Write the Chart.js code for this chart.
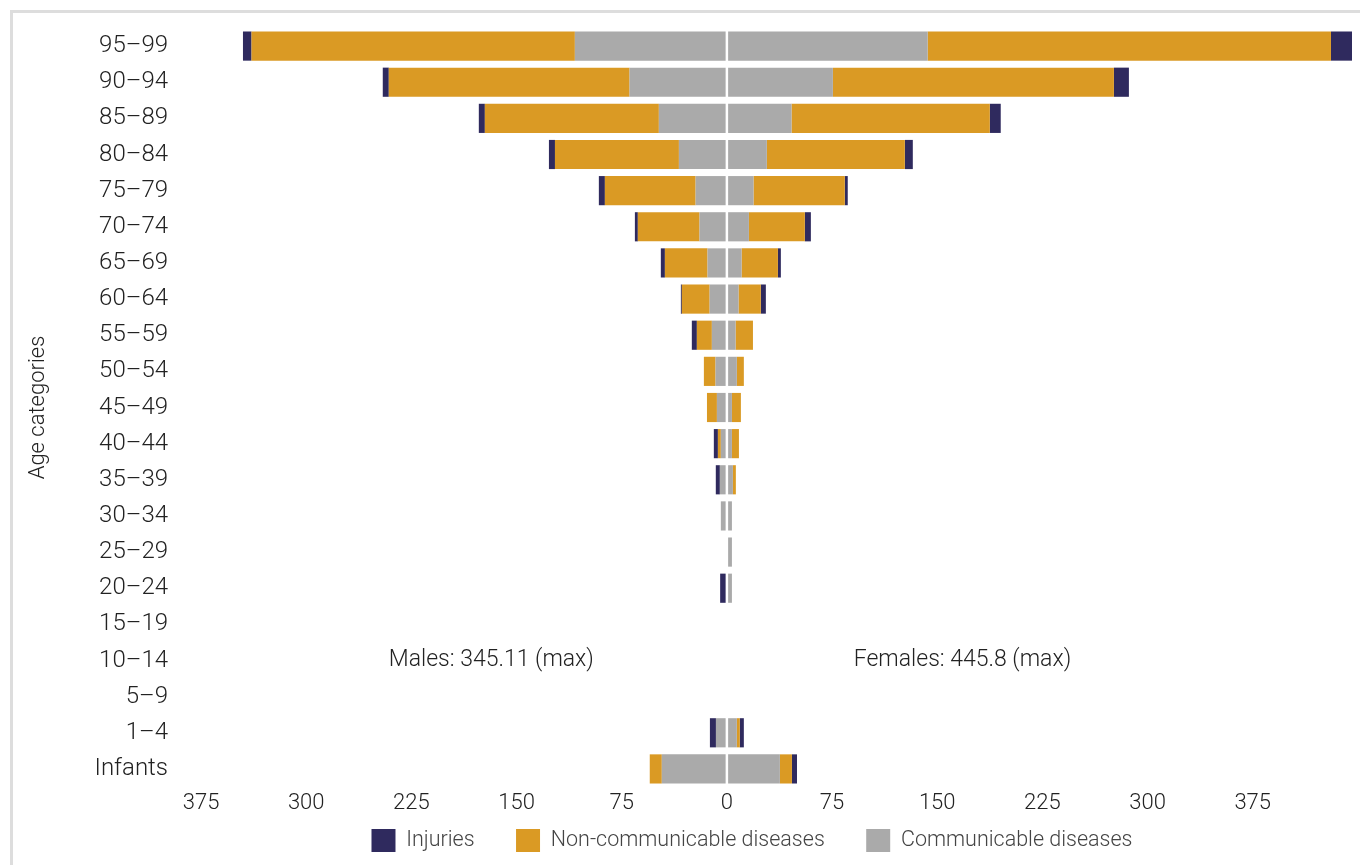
<!DOCTYPE html>
<html>
<head>
<meta charset="utf-8">
<script src="https://cdn.jsdelivr.net/npm/chart.js@4/dist/chart.umd.min.js"></script>
<style>
  body { margin: 0; background: #fff; }
  #wrap { position: relative; width: 1360px; height: 865px; }
  #frame { position: absolute; left: 10px; top: 10px; right: 0; bottom: 0;
           border-top: 3px solid #ddd; border-left: 3px solid #ddd; }
  #myChart { position: absolute; left: 0; top: 0; }
</style>
</head>
<body>
<div id="wrap">
  <div id="frame"></div>
  <canvas id="myChart" width="1360" height="865"></canvas>
</div>
<script>
const ageCategories = ['95–99', '90–94', '85–89', '80–84', '75–79', '70–74', '65–69', '60–64',
  '55–59', '50–54', '45–49', '40–44', '35–39', '30–34', '25–29', '20–24', '15–19', '10–14',
  '5–9', '1–4', 'Infants'];

// males (drawn to the left)
const maleCommunicable    = [108.4, 69.4, 48.5, 34.2, 22.3, 19.5, 13.8, 12.3, 10.7, 8.1, 7.1, 4.3, 5.0, 4.3, 0, 0.5, 0, 0, 0, 7.8, 46.4];
const maleNonCommunicable = [230.6, 171.7, 124.1, 88.4, 64.7, 44.0, 30.4, 19.8, 10.7, 8.3, 7.1, 2.1, 0, 0, 0, 0, 0, 0, 0, 0, 8.6];
const maleInjuries        = [6.1, 4.3, 4.3, 4.3, 4.3, 2.1, 2.9, 0.7, 3.6, 0, 0, 2.9, 2.9, 0, 0, 4.3, 0, 0, 0, 4.3, 0];

// females (drawn to the right)
const femaleCommunicable    = [143.2, 75.6, 46.1, 28.5, 19.0, 15.7, 10.5, 8.3, 6.2, 7.1, 3.6, 3.6, 4.3, 3.6, 3.6, 3.6, 0, 0, 0, 7.1, 37.8];
const femaleNonCommunicable = [287.6, 200.4, 141.4, 98.4, 65.1, 39.9, 25.9, 15.9, 12.4, 5.0, 6.4, 5.0, 2.1, 0, 0, 0, 0, 0, 0, 2.1, 8.6];
const femaleInjuries        = [15.0, 10.7, 7.8, 5.7, 2.1, 4.3, 2.1, 3.6, 0, 0, 0, 0, 0, 0, 0, 0, 0, 0, 0, 2.9, 3.6];

const xTicks = [-375, -300, -225, -150, -75, 0, 75, 150, 225, 300, 375];
const maleMax = 345.11;
const femaleMax = 445.8;

const NAVY = '#2f2a5e';
const ORANGE = '#da9a24';
const GREY = '#aaaaaa';
const FONT = 'Roboto';

const neg = arr => arr.map(v => -v);

const data = {
  labels: ageCategories,
  datasets: [
    { label: 'Communicable diseases', data: neg(maleCommunicable), backgroundColor: GREY, male: true },
    { label: 'Communicable diseases', data: femaleCommunicable, backgroundColor: GREY },
    { label: 'Non-communicable diseases', data: neg(maleNonCommunicable), backgroundColor: ORANGE, male: true },
    { label: 'Non-communicable diseases', data: femaleNonCommunicable, backgroundColor: ORANGE },
    { label: 'Injuries', data: neg(maleInjuries), backgroundColor: NAVY, male: true },
    { label: 'Injuries', data: femaleInjuries, backgroundColor: NAVY }
  ]
};

// white line down the middle + max labels
const centerLine = {
  id: 'centerLine',
  afterDatasetsDraw(chart) {
    const {ctx, chartArea: {top, bottom}, scales: {x, y}} = chart;
    const x0 = x.getPixelForValue(0);
    ctx.save();
    ctx.strokeStyle = '#fff';
    ctx.lineWidth = 2.5;
    ctx.beginPath();
    ctx.moveTo(x0, top);
    ctx.lineTo(x0, bottom);
    ctx.stroke();

    const yRow = y.getPixelForValue(ageCategories.indexOf('10–14'));
    ctx.fillStyle = '#222';
    ctx.font = '300 23px ' + FONT;
    ctx.textAlign = 'center';
    ctx.textBaseline = 'middle';
    ctx.fillText('Males: ' + maleMax + ' (max)', x.getPixelForValue(-168), yRow);
    ctx.fillText('Females: ' + femaleMax + ' (max)', x.getPixelForValue(168), yRow);
    ctx.restore();
  }
};

// legend sits right of centre in the original
const shiftLegend = {
  id: 'shiftLegend',
  afterLayout(chart) {
    chart.legend.left += 71;
    chart.legend.right += 71;
  }
};

const config = {
  type: 'bar',
  data,
  options: {
    indexAxis: 'y',
    responsive: false,
    animation: false,
    devicePixelRatio: 1,
    datasets: {
      bar: { categoryPercentage: 1, barPercentage: 0.807, borderWidth: 0 }
    },
    layout: { padding: { top: 28, right: 8, bottom: 3, left: 10 } },
    scales: {
      x: {
        stacked: true,
        min: -390,
        max: femaleMax,
        grid: { display: false, drawTicks: false },
        border: { display: false },
        afterBuildTicks: (scale) => {
          scale.ticks = xTicks.map(v => ({ value: v }));
        },
        afterFit: (scale) => { scale.height = 32; },
        ticks: {
          color: '#222',
          font: { family: FONT, size: 22, weight: 300 },
          padding: 3,
          callback: (v) => Math.abs(v)
        }
      },
      y: {
        stacked: true,
        grid: { display: false, drawTicks: false },
        border: { display: false },
        afterFit: (scale) => { scale.width = 170; },
        ticks: {
          color: '#222',
          font: { family: FONT, size: 24, weight: 300 },
          padding: 12
        },
        title: {
          display: true,
          text: 'Age categories',
          color: '#222',
          font: { family: FONT, size: 22, weight: 300 },
          padding: { top: 15, bottom: 0 }
        }
      }
    },
    plugins: {
      tooltip: { enabled: false },
      legend: {
        position: 'bottom',
        labels: {
          boxWidth: 24,
          boxHeight: 23,
          padding: 10,
          color: '#444',
          font: { family: FONT, size: 21.5, weight: 300 },
          filter: (item, chartData) => !chartData.datasets[item.datasetIndex].male,
          sort: (a, b) => b.datasetIndex - a.datasetIndex,
          // wider gaps between items than the legend padding gives
          generateLabels: (chart) => {
            const items = Chart.defaults.plugins.legend.labels.generateLabels(chart);
            items.forEach(it => {
              if (it.text !== 'Communicable diseases') it.text += '      ';
            });
            return items;
          }
        }
      }
    }
  },
  plugins: [centerLine, shiftLegend]
};

const myChart = new Chart(document.getElementById('myChart'), config);
</script>
</body>
</html>
